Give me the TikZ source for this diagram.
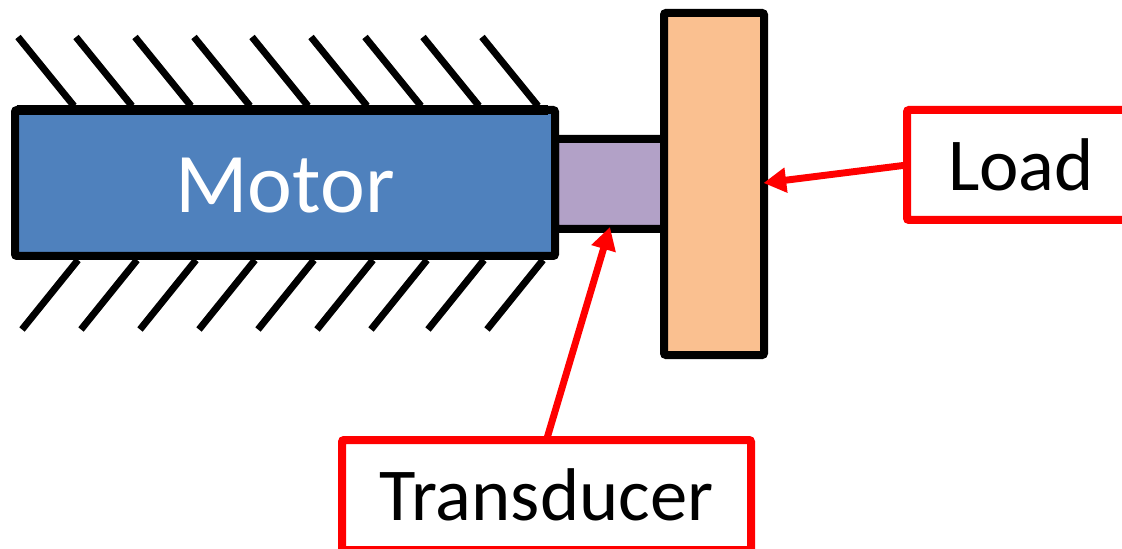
\documentclass[tikz,border=0pt]{standalone}
\usepackage{fontspec}
\setmainfont{Carlito}
\usetikzlibrary{arrows.meta}
\definecolor{motorblue}{HTML}{4F81BD}
\definecolor{transpurple}{HTML}{B2A1C7}
\definecolor{loadorange}{HTML}{FAC090}
\tikzset{
  part/.style={draw=black,line width=6pt,rounded corners=1.5pt,inner sep=0pt,outer sep=0pt,anchor=center},
  hatchline/.style={draw=black,line width=5.2pt},
  labelbox/.style={draw=red,fill=white,line width=6pt,rounded corners=1.5pt,inner sep=0pt,outer sep=0pt,anchor=center,text=black,font=\fontsize{56}{60}\selectfont},
  pointer/.style={draw=red,line width=5.2pt,-{Triangle[length=17pt,width=18pt]}},
}
\begin{document}
\begin{tikzpicture}[x=0.75pt,y=-0.75pt]
\useasboundingbox (0,0) rectangle (1122,549);
\clip (0,0) rectangle (1122,549);
% wall hatching, top and bottom of the motor
\foreach \t in {20,78,137,196,254,313,367,425,484}
  \draw[hatchline] ({\t-2},37) -- ({\t+54},106);
\foreach \b in {23,82,141,200,259,318,372,429,488}
  \draw[hatchline] ({\b-1},329.5) -- ({\b+55},260);
\node[part,fill=transpurple,minimum width=109*0.75pt,minimum height=90*0.75pt] (transducer) at (609.5,184) {};
\node[part,fill=motorblue,minimum width=540*0.75pt,minimum height=146*0.75pt,text=white,font=\fontsize{63.7}{68}\selectfont] (motor) at (285,183) {\raisebox{-22.5pt}[0pt][0pt]{Motor}};
% the wall line doubles the motor's top edge
\draw[draw=black,line width=7.5pt] ([xshift=0.75pt*2]motor.north west) -- ([xshift=-0.75pt*7]motor.north east);
\node[part,fill=loadorange,minimum width=100*0.75pt,minimum height=342*0.75pt] (load) at (714,184) {};
\node[labelbox,minimum width=228*0.75pt,minimum height=110*0.75pt] (loadlabel) at (1021,165) {Load};
\node[labelbox,minimum width=409*0.75pt,minimum height=110*0.75pt] (translabel) at (546.5,495) {Transducer};
\coordinate (loadtip) at (763.5,183);
\coordinate (transtip) at (610,227);
\draw[pointer] (loadlabel.west) -- (loadtip);
\draw[pointer] (translabel.north) -- (transtip);
\end{tikzpicture}
\end{document}
